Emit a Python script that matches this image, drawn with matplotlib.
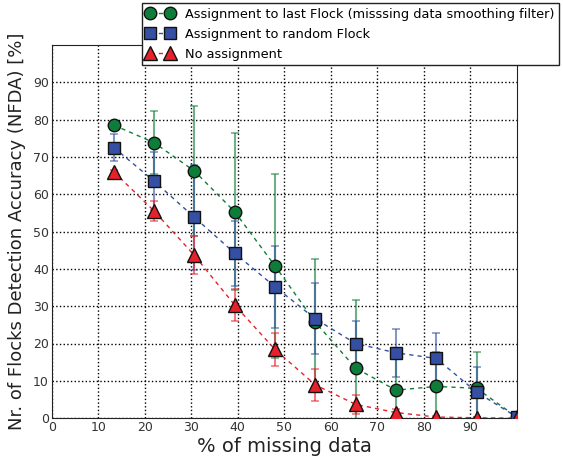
import matplotlib
matplotlib.use("Agg")
import matplotlib.pyplot as plt

# % of missing data and NFDA results (mean, std) for each strategy
missing = [13.33, 22.0, 30.67, 39.33, 48.0, 56.67, 65.33, 74.0, 82.67, 91.33, 100.0]

last_flock = [78.5, 73.8, 66.2, 55.3, 40.8, 25.7, 13.4, 7.5, 8.5, 8.0, 0.3]
last_flock_std = [1.0, 8.5, 17.5, 21.0, 24.6, 17.0, 18.2, 10.0, 9.3, 9.7, 0.0]

random_flock = [72.5, 63.5, 53.8, 44.2, 35.2, 26.6, 20.0, 17.5, 16.0, 7.0, 0.3]
random_flock_std = [3.6, 7.8, 14.0, 8.7, 11.0, 9.5, 5.9, 6.4, 6.8, 6.8, 0.0]

no_assign = [66.0, 55.5, 43.6, 30.3, 18.4, 8.9, 3.7, 1.5, 0.3, 0.1, 0.0]
no_assign_std = [0.5, 2.8, 5.1, 4.2, 4.4, 4.3, 2.6, 1.0, 0.3, 0.1, 0.0]

x_ticks = list(range(0, 100, 10))
y_ticks = list(range(0, 100, 10))

green = "#0e7d3a"
blue = "#3550a3"
red = "#e8202a"

fig = plt.figure(figsize=(5.63, 4.58), dpi=100)
ax = fig.add_axes([0.092, 0.087, 0.826, 0.815])

series = [
    (last_flock, last_flock_std, green, "o", 9, "Assignment to last Flock (misssing data smoothing filter)"),
    (random_flock, random_flock_std, blue, "s", 9, "Assignment to random Flock"),
    (no_assign, no_assign_std, red, "^", 9.5, "No assignment"),
]

handles = []
for vals, std, col, mk, ms, lab in series:
    ax.errorbar(missing, vals, yerr=std, fmt="none", ecolor=col, elinewidth=1.5,
                capsize=3, capthick=1.2, alpha=0.6, zorder=2)
    line, = ax.plot(missing, vals, linestyle="--", dashes=(3, 3), linewidth=1,
                    color=col, marker=mk, markersize=ms, markerfacecolor=col,
                    markeredgecolor="#111111", markeredgewidth=1, label=lab,
                    zorder=3)
    handles.append(line)

ax.set_xlim(0, 100)
ax.set_ylim(0, 100)
ax.set_xticks(x_ticks)
ax.set_yticks(y_ticks)
ax.tick_params(labelsize=9, labelcolor="#333333", direction="in", length=0, pad=2)
ax.grid(True, linestyle=":", color="black", linewidth=1)
for sp in ax.spines.values():
    sp.set_color("#222222")

ax.set_xlabel("% of missing data", fontsize=14, color="#222222", labelpad=2)
ax.set_ylabel("Nr. of Flocks Detection Accuracy (NFDA) [%]", fontsize=13,
              color="#222222", labelpad=5)

fig.legend(handles=handles, loc="upper left", bbox_to_anchor=(142 / 563, 1 - 3 / 458),
           borderaxespad=0, numpoints=2, fontsize=9.3, fancybox=False,
           framealpha=1, edgecolor="#222222", borderpad=0.35,
           handlelength=2.15, handletextpad=0.85, labelspacing=0.55)

fig.savefig("out.png", dpi=100)
